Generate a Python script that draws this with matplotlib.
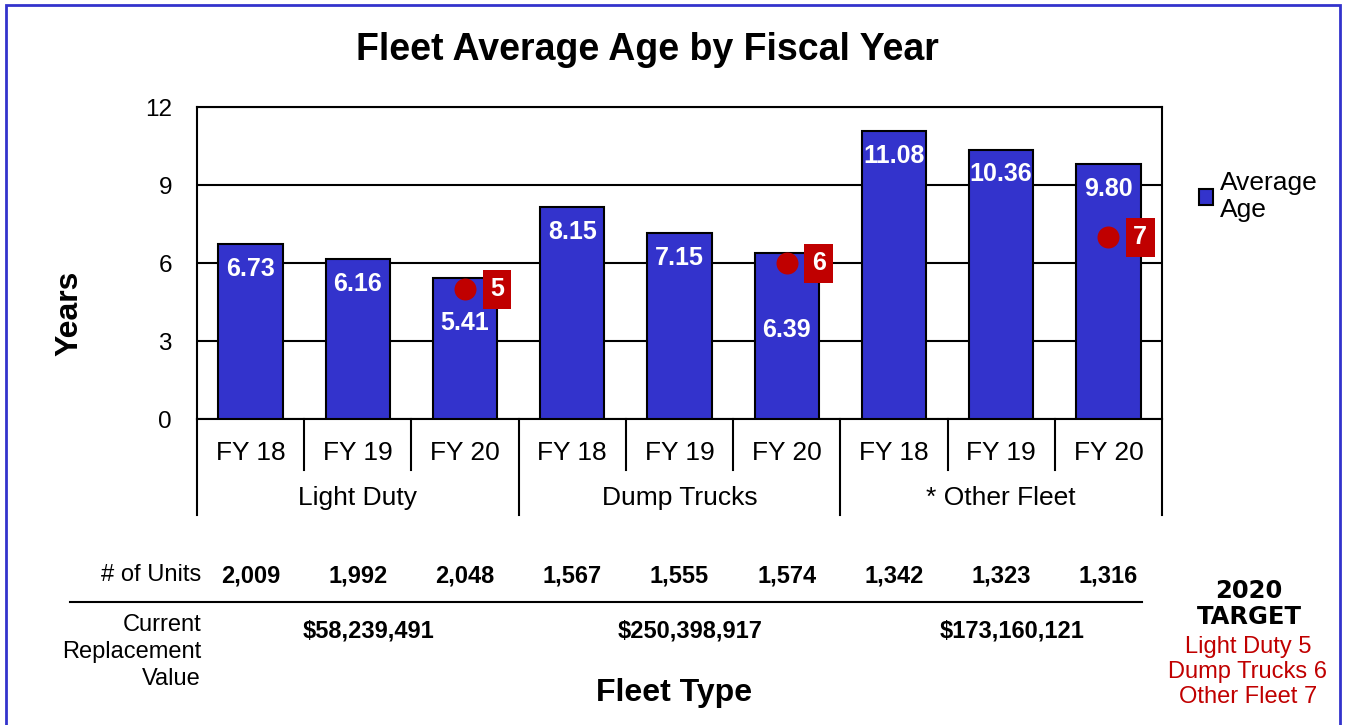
import matplotlib.pyplot as plt
import matplotlib.patches as patches

plt.rcParams['font.family'] = ['Liberation Sans', 'DejaVu Sans']

# data
groups = ['Light Duty', 'Dump Trucks', '* Other Fleet']
years = ['FY 18', 'FY 19', 'FY 20']
avg_age = [6.73, 6.16, 5.41, 8.15, 7.15, 6.39, 11.08, 10.36, 9.80]
units = ['2,009', '1,992', '2,048', '1,567', '1,555', '1,574', '1,342', '1,323', '1,316']
replacement = ['$58,239,491', '$250,398,917', '$173,160,121']
targets = [5, 6, 7]

blue = '#3333CC'
red = '#C00000'

fig = plt.figure(figsize=(13.46, 7.25), dpi=100)
ax = fig.add_axes([197 / 1346, 1 - 419 / 725, 965 / 1346, 312 / 725])

x = list(range(len(avg_age)))
ax.bar(x, avg_age, width=0.6, color=blue, edgecolor='black', linewidth=1.5, zorder=3,
       label='Average\nAge')
ax.set_xlim(-0.5, len(avg_age) - 0.5)
ax.set_ylim(0, 12)
ax.set_yticks([0, 3, 6, 9, 12])
ax.tick_params(axis='y', labelsize=17.5, length=0, pad=18)
ax.grid(axis='y', color='black', linewidth=1.5, zorder=1)
for s in ax.spines.values():
    s.set_linewidth(1.5)

# value labels (two are pushed down to clear the target markers)
drop = [0.95, 0.95, 1.7, 0.95, 0.95, 2.95, 0.95, 0.95, 0.95]
for i, v in enumerate(avg_age):
    ax.text(i, v - drop[i], '%.2f' % v, ha='center', va='center', color='white',
            fontsize=18, fontweight='bold', zorder=4)

# targets on the FY 20 bars
for g, t in enumerate(targets):
    xi = g * 3 + 2
    ax.scatter([xi], [t], s=220, color=red, zorder=5, clip_on=False)
    ax.annotate(str(t), (xi, t), xytext=(23, 0), textcoords='offset points',
                ha='center', va='center', color='white', fontsize=18, fontweight='bold',
                bbox=dict(boxstyle='square,pad=0.3', fc=red, ec='none'), zorder=6)

# two-level category axis
ax.set_xticks(x)
ax.set_xticklabels(years * 3, fontsize=19)
ax.tick_params(axis='x', length=0, pad=16)
tr = ax.get_xaxis_transform()
for i in range(len(avg_age) + 1):
    bottom = -0.308 if i % 3 == 0 else -0.163
    ax.plot([i - 0.5, i - 0.5], [0, bottom], color='black', lw=1.5, transform=tr, clip_on=False)
for g, name in enumerate(groups):
    ax.text(g * 3 + 1, -0.252, name, ha='center', va='center', fontsize=19, transform=tr)

ax.set_ylabel('Years', fontsize=23, fontweight='bold')
ax.yaxis.set_label_coords(-0.117, 0.34)
fig.text(647 / 1346, 1 - 50 / 725, 'Fleet Average Age by Fiscal Year', ha='center',
         va='center', fontsize=27, fontweight='bold')

ax.legend(loc='upper left', bbox_to_anchor=(1.027, 0.83), frameon=False, fontsize=19,
          handlelength=0.55, handleheight=0.55, handletextpad=0.25, borderaxespad=0,
          labelspacing=0)

# table under the chart
fig.text(201 / 1346, 1 - 575 / 725, '# of Units', ha='right', va='center', fontsize=17)
for i, u in enumerate(units):
    ax.text(i, -0.502, u, ha='center', va='center', fontsize=17, fontweight='bold', transform=tr)
fig.add_artist(plt.Line2D([70 / 1346, 1142 / 1346], [1 - 602 / 725] * 2, color='black', lw=1.5))
fig.text(201 / 1346, 1 - 652 / 725, 'Current\nReplacement\nValue', ha='right', va='center',
         fontsize=17, linespacing=1.3)
for g, r in enumerate(replacement):
    ax.text(g * 3 + 1.1, -0.68, r, ha='center', va='center', fontsize=17, fontweight='bold',
            transform=tr)
fig.text(674 / 1346, 1 - 693 / 725, 'Fleet Type', ha='center', va='center', fontsize=23,
         fontweight='bold')

# target note
fig.text(1249 / 1346, 1 - 604 / 725, '2020\nTARGET', ha='center', va='center', fontsize=17.5,
         fontweight='bold', linespacing=1.1, family='DejaVu Sans')
fig.text(1248 / 1346, 1 - 672 / 725,
         'Light Duty %d\nDump Trucks %d\nOther Fleet %d' % tuple(targets),
         ha='center', va='center', fontsize=17, color=red, linespacing=1.2)

# blue frame
fig.add_artist(patches.Rectangle((6 / 1346, -0.05), 1334 / 1346, 1.05 - 5 / 725,
                                 fill=False, ec=blue, lw=2, transform=fig.transFigure))

fig.savefig('out.png', dpi=100)
